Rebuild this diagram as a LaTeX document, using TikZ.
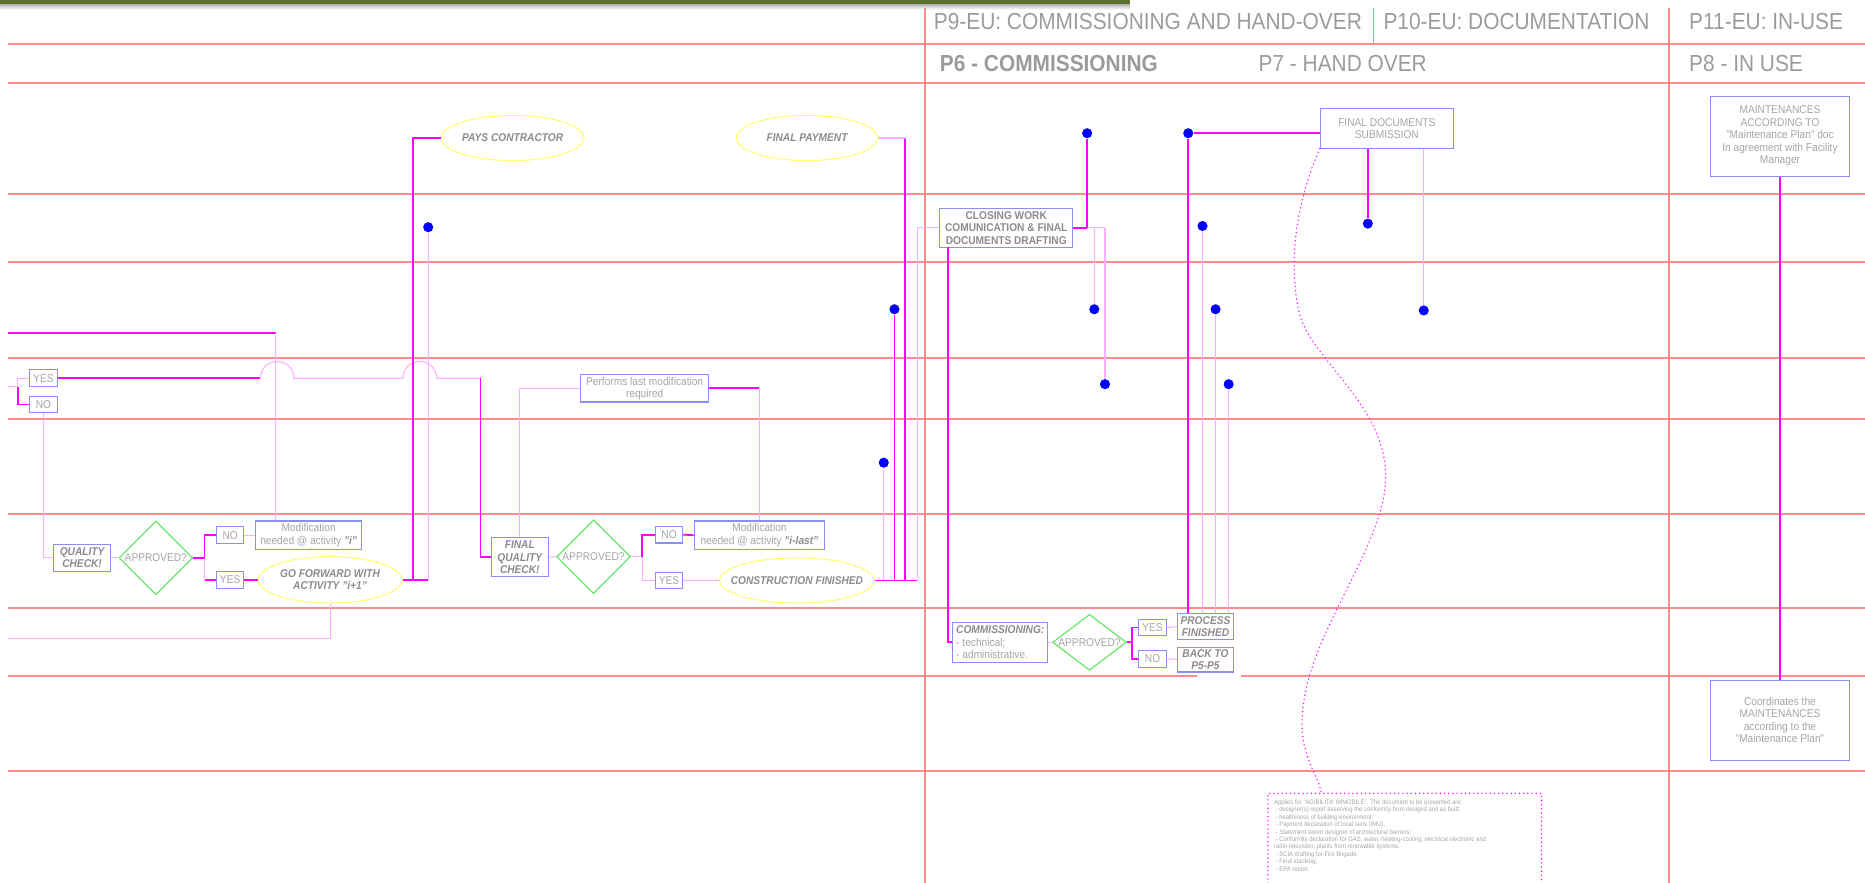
\documentclass[tikz,border=0pt]{standalone}
\usepackage{fontspec}
\setmainfont{Liberation Sans}[FakeStretch=0.9]
\usetikzlibrary{shapes.geometric}
\definecolor{lanered}{RGB}{255,140,140}
\definecolor{boxblue}{RGB}{140,140,255}
\definecolor{txtgray}{RGB}{165,165,165}
\definecolor{bitgray}{RGB}{140,140,140}
\definecolor{headgray}{RGB}{155,155,155}
\definecolor{lmag}{RGB}{255,0,255}
\definecolor{lpinkc}{RGB}{255,175,255}
\definecolor{ovalyellow}{RGB}{255,255,110}
\definecolor{decgreen}{RGB}{90,230,90}
\definecolor{dotblue}{RGB}{0,0,255}
\definecolor{bargreen}{RGB}{90,115,40}
\newcommand{\fs}{\fontsize{9.5}{10.5}\selectfont}
\newcommand{\hs}{\fontsize{19.5}{22}\selectfont}
\tikzstyle{lane}=[draw=lanered, line width=1.6pt]
\tikzstyle{head}=[inner sep=0pt, text=headgray, font=\hs]
\tikzstyle{box}=[rectangle, draw=boxblue, line width=0.9pt, fill=white, inner sep=0pt, align=center, text=txtgray, font=\fs]
\tikzstyle{bbox}=[box, text=bitgray, font=\fs\bfseries\itshape]
\tikzstyle{oval}=[ellipse, draw=ovalyellow, line width=0.9pt, fill=white, inner sep=0pt, align=center, text=bitgray, font=\fs\bfseries\itshape]
\tikzstyle{decision}=[diamond, draw=decgreen, line width=0.9pt, fill=white, inner sep=0pt, text=txtgray, font=\fs]
\tikzstyle{bluedot}=[circle, fill=dotblue, inner sep=0pt, minimum size=8.5pt]
\tikzstyle{mag}=[draw=lmag, line width=1.5pt]
\tikzstyle{lpink}=[draw=lpinkc, line width=0.9pt]
\tikzstyle{dotcurve}=[draw=lmag, line width=1.3pt, line cap=round, dash pattern=on 0pt off 3.5pt]
\newcommand{\bluedot}{\node[bluedot]}
\newcommand{\yn}[2]{\node[box, minimum width=23, minimum height=14] (#1) at #2}

\begin{document}
\begin{tikzpicture}[x=1pt,y=-1pt]
	\useasboundingbox (0,0) rectangle (1568,742);
	%% top bar
	\fill[bargreen] (0,0) rectangle (950,3.5);
	\shade[top color=black!30, bottom color=white] (0,3.5) rectangle (950,8);
	%% the lanes
	\foreach \y in {37,70,163,220,301,352,432,511,648}
		\draw[lane] (7,\y) -- (1568,\y);
	\draw[lane] (7,568) -- (1006,568);
	\draw[lane] (1043,568) -- (1568,568);
	\draw[lane] (778,7) -- (778,742);
	\draw[lane] (1403,7) -- (1403,742);
	\draw[lane, line width=1pt] (1155,7) -- (1155,37);
	%% headers
	\node[head, anchor=base west] (p9) at (785,25) {P9-EU: COMMISSIONING AND HAND-OVER};
	\node[head, anchor=base west] (p10) at (1163,25) {P10-EU: DOCUMENTATION};
	\node[head, anchor=base west] (p11) at (1420,25) {P11-EU: IN-USE};
	\node[head, anchor=base west, font=\hs\bfseries] (p6) at (790,60) {P6 - COMMISSIONING};
	\node[head, anchor=base west] (p7) at (1058,60) {P7 - HAND OVER};
	\node[head, anchor=base west] (p8) at (1420,60) {P8 - IN USE};

	%% the boxes
	\yn{yes1}{(36.5,318)} {YES};
	\yn{no1}{(36.5,340)} {NO};
	\node[bbox, minimum width=48, minimum height=23] (qc) at (69,469) {QUALITY\\CHECK!};
	\node[decision, minimum width=62, minimum height=62] (dia1) at (131,469) {\makebox[0pt]{APPROVED?}};
	\yn{no2}{(193.5,450)} {NO};
	\yn{yes2}{(193.5,487.5)} {YES};
	\node[box, minimum width=89, minimum height=24] (mod1) at (259.5,450) {Modification\\needed @ activity {\bfseries\itshape\color{bitgray}"i"}};
	\node[oval, minimum width=121, minimum height=39] (gf) at (277.5,487.5) {GO FORWARD WITH\\ACTIVITY "i+1"};
	\node[oval, minimum width=120, minimum height=38] (pc) at (431,116) {\makebox[0pt]{PAYS CONTRACTOR}};
	\node[oval, minimum width=119, minimum height=38] (fp) at (678.5,116) {\makebox[0pt]{FINAL PAYMENT}};
	\node[bbox, minimum width=48, minimum height=33] (fqc) at (437,468.5) {FINAL\\QUALITY\\CHECK!};
	\node[box, minimum width=108, minimum height=23] (perf) at (542,326.5) {Performs last modification\\required};
	\node[decision, minimum width=62, minimum height=62] (dia2) at (499,468) {\makebox[0pt]{APPROVED?}};
	\yn{no3}{(562.5,449.5)} {NO};
	\yn{yes3}{(562.5,488)} {YES};
	\node[box, minimum width=109, minimum height=24] (mod2) at (638.5,450) {Modification\\needed @ activity {\bfseries\itshape\color{bitgray}"i-last"}};
	\node[oval, minimum width=130, minimum height=38] (cf) at (670,488) {\makebox[0pt]{CONSTRUCTION FINISHED}};

	\node[box, text=bitgray, font=\fs\bfseries, minimum width=112, minimum height=33] (cw) at (846,191.5) {CLOSING WORK\\COMUNICATION \& FINAL\\DOCUMENTS DRAFTING};
	\node[box, align=left, minimum width=80, minimum height=34] (com) at (841,540) {{\bfseries\itshape\color{bitgray}COMMISSIONING:}\\- technical;\\- administrative.};
	\node[decision, minimum width=62, minimum height=47] (dia3) at (916,540) {\makebox[0pt]{APPROVED?}};
	\yn{yes4}{(969,527.5)} {YES};
	\yn{no4}{(969,554)} {NO};
	\node[bbox, minimum width=47, minimum height=22] (pf) at (1013.5,527) {PROCESS\\FINISHED};
	\node[bbox, minimum width=47, minimum height=21] (bk) at (1013.5,554.5) {BACK TO\\P5-P5};
	\node[box, minimum width=112, minimum height=33] (fd) at (1166,108) {FINAL DOCUMENTS\\SUBMISSION};
	\node[box, minimum width=117, minimum height=67] (mt) at (1496.5,114.5) {MAINTENANCES\\ACCORDING TO\\"Maintenance Plan" doc\\In agreement with Facility\\Manager};
	\node[box, minimum width=117, minimum height=67] (co) at (1496.5,605.5) {Coordinates the\\MAINTENANCES\\according to the\\"Maintenance Plan"};
	\node[anchor=north west, inner sep=0pt, align=left, text=txtgray, font=\fontsize{5.5}{6.25}\selectfont] (note) at (1071,672)
		{Applies for "AGIBILITA' IMMOBILE". The document to be presented are:\\
		\ - designer(s) report asserving the conformity from desiged and as built;\\
		\ - healthiness of building environment;\\
		\ - Payment declaration of local taxis (IMU);\\
		\ - Statement sworn designer of architectural barriers;\\
		\ - Conformity declaration for GAS, water, heating-cooling, electrical electronic and\\
		radio-television, plants from renewable systems;\\
		\ - SCIA drafting for Fire Brigade;\\
		\ - Final stacking;\\
		\ - EPA report.};
	\draw[dotcurve] (1066,760) rectangle (1296,667);
	\coordinate (notetop) at (1111,667);

	%% the dots
	\bluedot (d1) at (360,191) {};
	\bluedot (d2) at (752,260) {};
	\bluedot (d3) at (743,389) {};
	\bluedot (d4) at (914,112) {};
	\bluedot (d5) at (920,260) {};
	\bluedot (d6) at (929,323) {};
	\bluedot (d7) at (999,112) {};
	\bluedot (d8) at (1011,190) {};
	\bluedot (d9) at (1022,260) {};
	\bluedot (d10) at (1033,323) {};
	\bluedot (d11) at (1150,188) {};
	\bluedot (d12) at (1197,261) {};

	%% for the connectors
	\coordinate (in1) at (7,280);
	\coordinate (c1) at (232,280);
	\draw[mag] (in1) -- (c1);
	\draw[lpink] (c1) -- (c1 |- mod1.north);
	\coordinate (in2) at (7,325);
	\coordinate (br1) at (15,325);
	\draw[lpink] (in2) -- (br1) |- (yes1.west);
	\draw[mag] (br1) |- (no1.west);
	\draw[mag] (yes1.east) -- (219,318);
	\draw[lpink] (219,318) .. controls (219,299.3) and (247,299.3) .. (247,318) -- (339,318)
		.. controls (339,299.3) and (367,299.3) .. (367,318) -- (404,318);
	\draw[mag] (404,318) |- (fqc.west);
	\draw[lpink] (no1.south) |- (qc.west);
	\draw[lpink] (qc.east) -- (dia1.west);
	\coordinate (br2) at (172,469);
	\draw[mag] (dia1.east) -- (br2) |- (no2.west);
	\draw[lpink] (br2) -- (br2 |- yes2.west);
	\draw[mag] (br2 |- yes2.west) -- (yes2.west);
	\draw[lpink] (no2.east) -- (mod1.west);
	\draw[mag] (yes2.east) -- (gf.west);
	\coordinate (out1) at (7,537);
	\draw[lpink] (gf.south) |- (out1);
	\coordinate (gfa) at (347,487.5);
	\coordinate (gfb) at (360,487.5);
	\draw[mag] (gf.east) -- (gfb);
	\draw[mag] (gfa) |- (pc.west);
	\draw[lpink] (gfb) -- (d1);

	\draw[lpink] (fqc.north) |- (perf.west);
	\draw[mag] (perf.east) -- (perf.east -| mod2.north);
	\draw[lpink] (perf.east -| mod2.north) -- (mod2.north);
	\draw[lpink] (fqc.east) -- (dia2.west);
	\coordinate (br3) at (540,468);
	\draw[lpink] (dia2.east) -- (br3);
	\draw[mag] (br3) |- (no3.west);
	\draw[lpink] (br3) |- (yes3.west);
	\draw[mag] (no3.east) -- (mod2.west);
	\draw[lpink] (yes3.east) -- (cf.west);
	\coordinate (cfa) at (743,488);
	\coordinate (cfb) at (752,488);
	\coordinate (cfc) at (761,488);
	\coordinate (cfd) at (771,488);
	\coordinate (fpj) at (761,116);
	\draw[mag] (cf.east) -- (cfd);
	\draw[lpink] (cfa) -- (d3);
	\draw[mag] (cfb) -- (d2);
	\draw[mag] (cfc) -- (fpj);
	\draw[lpink] (fpj) -- (fp.east);
	\draw[lpink] (cfd) |- (cw.west);

	\coordinate (cwa) at (914,191.5);
	\coordinate (cwb) at (920,191.5);
	\coordinate (cwc) at (929,191.5);
	\draw[mag] (cw.east) -- (cwa);
	\draw[lpink] (cwa) -- (cwc);
	\draw[mag] (cwa) -- (d4);
	\draw[lpink] (cwb) -- (d5);
	\draw[lpink] (cwc) -- (d6);
	\coordinate (cws) at (797,208);
	\draw[mag] (cws) |- (com.west);
	\draw[lpink] (com.east) -- (dia3.west);
	\coordinate (br4) at (952,540);
	\draw[mag] (dia3.east) -- (br4) |- (yes4.west);
	\draw[mag] (br4) |- (no4.west);
	\draw[lpink] (yes4.east) -- (pf.west);
	\draw[lpink] (no4.east) -- (bk.west);
	\draw[mag] (d7) -- (d7 -| fd.west);
	\draw[mag] (d7) -- (d7 |- pf.north);
	\draw[lpink] (d8) -- (d8 |- pf.north);
	\draw[lpink] (d9) -- (d9 |- pf.north);
	\draw[lpink] (d10) -- (d10 |- pf.north);
	\draw[mag] (d11 |- fd.south) -- (d11);
	\draw[lpink] (d12 |- fd.south) -- (d12);
	\draw[dotcurve] (fd.south west) .. controls (1092,165) and (1082,215) .. (1092,262)
		.. controls (1100,300) and (1165,340) .. (1165,400)
		.. controls (1165,460) and (1100,530) .. (1095,600)
		.. controls (1092,635) and (1108,650) .. (notetop);
	\draw[mag] (mt.south) -- (co.north);

\end{tikzpicture}
\end{document}
